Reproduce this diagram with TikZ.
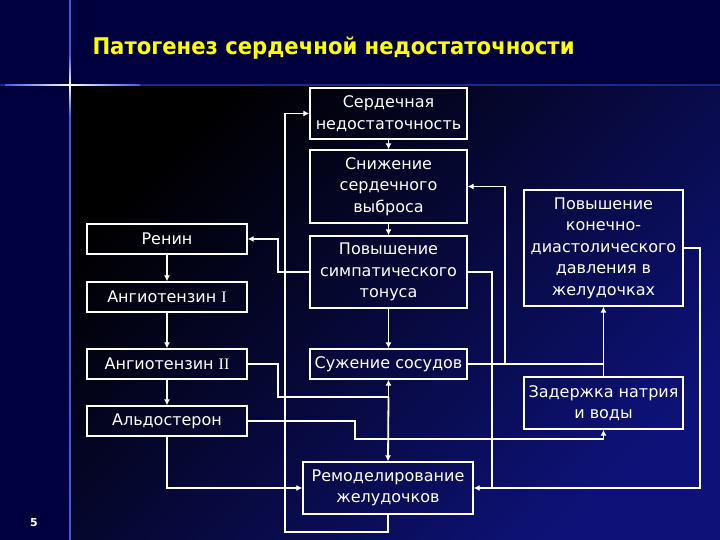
\documentclass[tikz,border=0pt]{standalone}
\usepackage{fontspec}
\setmainfont{DejaVu Sans}
\newfontfamily\titlefont{DejaVu Sans}[FakeStretch=0.92]
\newfontfamily\romfont{Liberation Serif}
\usetikzlibrary{arrows.meta, positioning, calc}

\definecolor{slidenavy}{RGB}{0,0,62}
\definecolor{deepblue}{RGB}{14,18,120}
\definecolor{glowblue}{RGB}{60,90,230}
\definecolor{titleyellow}{RGB}{255,255,0}

\begin{document}
\begin{tikzpicture}[
    x=1pt, y=-1pt,
    every node/.style={font=\fontsize{16}{21.5}\selectfont, text=white},
    box/.style={draw=white, line width=1.3pt, rectangle, align=center, inner sep=0pt},
    link/.style={draw=white, line width=1.8pt},
    arr/.style={link, -{Latex[length=6pt, width=6pt]}}
]
    % Slide background
    \useasboundingbox (0,0) rectangle (720,540);
    \fill[slidenavy] (0,0) rectangle (720,540);
    \shade[top color=black, bottom color=deepblue, shading angle=45] (70,86) rectangle (720,540);
    \draw[glowblue!45!slidenavy, line width=1.2pt] (0,85) -- (720,85);
    \draw[glowblue, line width=1.2pt] (70,0) -- (70,540);
    \shade[left color=glowblue, right color=white] (5,84.3) rectangle (70,85.7);
    \shade[left color=white, right color=glowblue] (70,84.3) rectangle (140,85.7);
    \shade[top color=glowblue, bottom color=white] (69.3,55) rectangle (70.7,85);
    \shade[top color=white, bottom color=glowblue] (69.3,85) rectangle (70.7,115);

    % Title and page number
    \node[font=\titlefont\bfseries\fontsize{23}{27}\selectfont, text=titleyellow, anchor=base west] (title) at (89,55) {Патогенез сердечной недостаточности};
    \node[font=\bfseries\fontsize{11}{13}\selectfont, anchor=base] (pagenum) at (34,526) {5};

    % Central column
    \node[box, minimum width=157, minimum height=51] (sn) at (388.5,113.5) {Сердечная\\недостаточность};
    \node[box, minimum width=157, minimum height=73] (sv) at (388.5,186.5) {Снижение\\сердечного\\выброса};
    \node[box, minimum width=157, minimum height=72] (ps) at (388.5,272) {Повышение\\симпатического\\тонуса};
    \node[box, minimum width=157, minimum height=30] (ss) at (388.5,364) {Сужение сосудов};
    \node[box, minimum width=170, minimum height=52] (rz) at (388,488) {Ремоделирование\\желудочков};

    % Renin - angiotensin - aldosterone
    \node[box, minimum width=160, minimum height=30] (renin) at (167,239) {Ренин};
    \node[box, minimum width=160, minimum height=30] (ang1) at (167,297) {Ангиотензин {\romfont I}};
    \node[box, minimum width=160, minimum height=30] (ang2) at (167,364) {Ангиотензин {\romfont II}};
    \node[box, minimum width=160, minimum height=30] (aldo) at (167,421) {Альдостерон};

    % Right column
    \node[box, minimum width=159, minimum height=116] (pkd) at (603.5,248) {Повышение\\конечно-\\диастолического\\давления в\\желудочках};
    \node[box, minimum width=159, minimum height=52] (zn) at (603.5,403) {Задержка натрия\\и воды};

    % Bends and junctions
    \coordinate (rnBend) at (278,239);
    \coordinate (a2Bend) at (278,397);
    \coordinate (a2J) at (388.5,397);
    \coordinate (alBend) at (355,439);
    \coordinate (ssJ) at (505,364);
    \coordinate (psBend) at (492,488);
    \coordinate (pkBend) at (700,488);
    \coordinate (fbBend) at (285,532);

    % Links
    \draw[arr] (sn) -- (sv);
    \draw[arr] (sv) -- (ps);
    \draw[arr] (ps) -- (ss);
    \draw[arr] (renin) -- (ang1);
    \draw[arr] (ang1) -- (ang2);
    \draw[arr] (ang2) -- (aldo);

    \draw[arr] (ps.west) -| (rnBend) -- (renin.east);
    \draw[link] (ang2.east) -| (a2Bend) -- (a2J);
    \draw[arr] (a2J) -- (ss.south);
    \draw[arr] (a2J) -- (rz.north);
    \draw[arr] (aldo.east) -| (alBend) -| (zn.south);
    \draw[arr] (aldo.south) |- (rz.west);

    \draw[link] (ss.east) -- (zn.north |- ss.east);
    \draw[arr] (ssJ) |- (sv.east);
    \draw[arr] (zn.north) -- (pkd.south);

    \draw[arr] (ps.east) -| (psBend) -- (rz.east);
    \draw[link] (pkd.east) -| (pkBend) -- (psBend);

    % Feedback to heart failure
    \draw[arr] (rz.south) |- (fbBend) |- (sn.west);

\end{tikzpicture}
\end{document}
